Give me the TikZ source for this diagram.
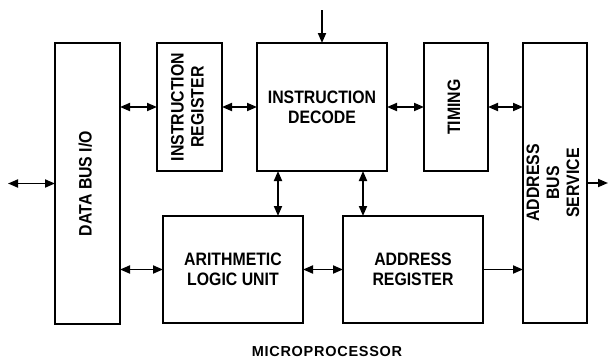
\documentclass[tikz,border=0pt]{standalone}
\usepackage{fontspec}
\setmainfont{Liberation Sans}[FakeStretch=0.88]
\newfontfamily\titlefont{Liberation Sans}[LetterSpace=5]
\usepackage{graphicx}
\usetikzlibrary{arrows.meta,positioning}
\newcommand{\vlabel}[1]{\rotatebox{90}{\begin{tabular}{@{}c@{}}#1\end{tabular}}}

\begin{document}
\begin{tikzpicture}[
x=1pt,y=-1pt,
font=\bfseries\fontsize{18}{20}\selectfont,
box/.style={draw,line width=2.6pt,inner sep=0pt,outer sep=0pt,align=center},
link/.style={{Triangle[length=10pt,width=8pt]}-{Triangle[length=10pt,width=8pt]},line width=1.8pt},
arr/.style={-{Triangle[length=10pt,width=8pt]},line width=1.8pt}
]
\useasboundingbox (0,0) rectangle (610,359);
\node[box,minimum width=65pt,minimum height=281pt,anchor=north west] (dbus) at (55,43) {\vlabel{DATA BUS I/O}};
\node[box,minimum width=65pt,minimum height=128pt,right=37pt of dbus.north east,anchor=north west] (ireg) {\vlabel{INSTRUCTION\\REGISTER}};
\node[box,minimum width=130pt,minimum height=128pt,right=35pt of ireg.north east,anchor=north west] (idec) {INSTRUCTION\\DECODE};
\node[box,minimum width=64pt,minimum height=128pt,right=37pt of idec.north east,anchor=north west] (timing) {\vlabel{TIMING}};
\node[box,minimum width=64pt,minimum height=280pt,right=35pt of timing.north east,anchor=north west] (abus) {\vlabel{ADDRESS\\BUS\\SERVICE}};
\node[box,minimum width=140pt,minimum height=107pt,anchor=north west] (alu) at (163,216) {ARITHMETIC\\LOGIC UNIT};
\node[box,minimum width=140pt,minimum height=107pt,right=40pt of alu.north east,anchor=north west] (areg) {ADDRESS\\REGISTER};
\node[font=\titlefont\bfseries\fontsize{14.5}{16}\selectfont,inner sep=0pt,anchor=base] (title) at (327,356) {MICROPROCESSOR};
\coordinate[left=47pt of dbus.west] (dext);
\coordinate[right=21pt of abus.east] (aext);
\coordinate[above=33pt of idec.north] (cmd);
\draw[link] (dext) -- (dbus.west);
\draw[link] (dbus.east |- ireg.west) -- (ireg.west);
\draw[link] (ireg.east) -- (idec.west);
\draw[link] (idec.east) -- (timing.west);
\draw[link] (timing.east) -- (abus.west |- timing.east);
\draw[arr] (abus.east) -- (aext);
\draw[arr] (cmd) -- (idec.north);
\draw[link] ([xshift=-25pt]alu.north east |- idec.south) -- ([xshift=-25pt]alu.north east);
\draw[link] ([xshift=20pt]areg.north west |- idec.south) -- ([xshift=20pt]areg.north west);
\draw[link] (dbus.east |- alu.west) -- (alu.west);
\draw[link] (alu.east) -- (areg.west);
\draw[arr] (areg.east) -- (abus.west |- areg.east);
\end{tikzpicture}
\end{document}
